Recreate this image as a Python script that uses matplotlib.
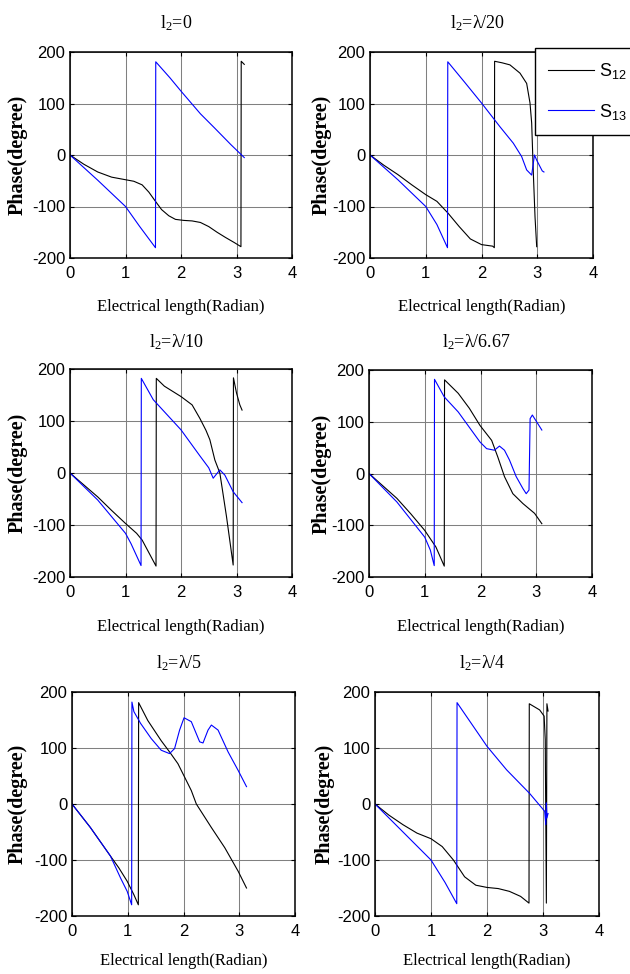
import matplotlib
matplotlib.use('Agg')
import matplotlib.pyplot as plt
from matplotlib.lines import Line2D

plt.rcParams['font.family'] = 'Liberation Sans'
plt.rcParams['mathtext.default'] = 'regular'
plt.rcParams['axes.unicode_minus'] = False

# ---------------- data ----------------
titles = ['$l_2$=0', '$l_2$=λ/20', '$l_2$=λ/10', '$l_2$=λ/6.67', '$l_2$=λ/5', '$l_2$=λ/4']
series_labels = ['S$_{12}$', 'S$_{13}$']
x_ticks = [0, 1, 2, 3, 4]
y_ticks = [-200, -100, 0, 100, 200]
xlabel_text = 'Electrical length(Radian)'
ylabel_text = 'Phase(degree)'

# l2 = 0
s12_x_0 = [0, 0.25, 0.5, 0.75, 1.0, 1.15, 1.3, 1.42, 1.54, 1.65, 1.78, 1.9, 2.05, 2.2, 2.35, 2.5, 2.65, 2.8, 2.96, 3.08, 3.085, 3.14]
s12_y_0 = [0, -18, -33, -43, -48, -51, -58, -72, -90, -106, -118, -125, -127, -128, -131, -139, -150, -160, -170, -178, 182, 176]
s13_x_0 = [0, 0.5, 1.0, 1.25, 1.54, 1.545, 1.8, 2.0, 2.35, 2.6, 2.9, 3.14]
s13_y_0 = [0, -49, -100, -138, -180, 181, 150, 124, 80, 53, 20, -5]

# l2 = lambda/20
s12_x_20 = [0, 0.25, 0.5, 0.75, 1.0, 1.2, 1.4, 1.6, 1.8, 2.0, 2.2, 2.23, 2.235, 2.37, 2.51, 2.69, 2.81, 2.87, 2.90, 2.93, 2.96, 2.99]
s12_y_20 = [0, -20, -38, -58, -77, -90, -113, -139, -163, -174, -177, -180, 182, 179, 175, 159, 139, 101, 62, -36, -120, -178]
s13_x_20 = [0, 0.5, 1.0, 1.2, 1.39, 1.395, 1.7, 2.0, 2.33, 2.57, 2.72, 2.81, 2.90, 2.95, 2.99, 3.09, 3.12]
s13_y_20 = [0, -48, -100, -135, -180, 181, 141, 101, 55, 23, -3, -29, -39, 0, -10, -31, -33]

# l2 = lambda/10
s12_x_10 = [0, 0.25, 0.5, 0.75, 1.0, 1.2, 1.3, 1.4, 1.55, 1.555, 1.7, 1.85, 2.0, 2.2, 2.34, 2.45, 2.52, 2.61, 2.70, 2.82, 2.94, 2.945, 3.0, 3.06, 3.1]
s12_y_10 = [0, -23, -46, -72, -97, -116, -129, -149, -179, 182, 167, 157, 147, 131, 105, 82, 64, 25, 0, -84, -177, 183, 154, 131, 121]
s13_x_10 = [0, 0.5, 1.0, 1.1, 1.28, 1.285, 1.5, 2.0, 2.34, 2.5, 2.58, 2.70, 2.79, 2.94, 3.1]
s13_y_10 = [0, -52, -116, -136, -178, 182, 141, 83, 33, 10, -10, 6, -4, -36, -57]

# l2 = lambda/6.67
s12_x_667 = [0, 0.25, 0.5, 0.75, 1.0, 1.2, 1.35, 1.355, 1.6, 1.8, 1.99, 2.20, 2.31, 2.43, 2.58, 2.76, 2.97, 3.10]
s12_y_667 = [0, -24, -48, -78, -110, -142, -179, 181, 155, 126, 93, 64, 32, -6, -39, -58, -77, -97]
s13_x_667 = [0, 0.5, 1.0, 1.1, 1.17, 1.175, 1.35, 1.6, 1.99, 2.11, 2.25, 2.34, 2.43, 2.52, 2.64, 2.76, 2.82, 2.87, 2.89, 2.93, 3.10]
s13_y_667 = [0, -55, -123, -148, -178, 182, 148, 119, 61, 48, 45, 53, 45, 26, -6, -29, -39, -32, 106, 113, 84]

# l2 = lambda/5
s12_x_5 = [0, 0.33, 0.69, 0.84, 0.99, 1.11, 1.19, 1.195, 1.36, 1.60, 1.75, 1.90, 2.02, 2.14, 2.23, 2.5, 2.74, 2.98, 3.13]
s12_y_5 = [0, -42, -93, -114, -138, -162, -180, 181, 149, 113, 93, 72, 48, 24, 0, -42, -78, -120, -150]
s13_x_5 = [0, 0.33, 0.69, 0.87, 0.99, 1.07, 1.075, 1.11, 1.23, 1.42, 1.60, 1.75, 1.84, 1.93, 2.01, 2.14, 2.29, 2.35, 2.44, 2.5, 2.62, 2.8, 2.98, 3.13]
s13_y_5 = [0, -42, -93, -132, -156, -180, 182, 165, 144, 117, 96, 90, 99, 132, 154, 147, 111, 109, 132, 141, 132, 93, 60, 31]

# l2 = lambda/4
s12_x_4 = [0, 0.25, 0.5, 0.75, 1.0, 1.2, 1.4, 1.6, 1.8, 2.0, 2.2, 2.4, 2.6, 2.75, 2.755, 2.94, 3.02, 3.04, 3.06, 3.07, 3.09]
s12_y_4 = [0, -20, -37, -52, -62, -76, -100, -130, -145, -149, -151, -156, -165, -177, 179, 168, 157, 115, -177, 179, 166]
s13_x_4 = [0, 0.5, 1.0, 1.25, 1.46, 1.465, 2.0, 2.35, 2.76, 3.03, 3.05, 3.06, 3.07, 3.09]
s13_y_4 = [0, -50, -100, -140, -178, 181, 103, 61, 19, -13, -37, 2, -25, -17]

panels = [
    (s12_x_0, s12_y_0, s13_x_0, s13_y_0),
    (s12_x_20, s12_y_20, s13_x_20, s13_y_20),
    (s12_x_10, s12_y_10, s13_x_10, s13_y_10),
    (s12_x_667, s12_y_667, s13_x_667, s13_y_667),
    (s12_x_5, s12_y_5, s13_x_5, s13_y_5),
    (s12_x_4, s12_y_4, s13_x_4, s13_y_4),
]

# ---------------- layout (pixels) ----------------
W, H = 630, 974
fig = plt.figure(figsize=(W / 100, H / 100), dpi=100)

boxes = [(70, 52, 292, 258), (370, 52, 593, 258),
         (70, 369, 292, 577), (369, 370, 592, 577),
         (72, 692, 295, 916), (375, 692, 599, 916)]
title_base = [28.5, 28.5, 347.5, 347.5, 668.5, 668.5]
xlabel_cy = [307, 307, 627, 627, 961, 961]
ylabel_cx = [17.5, 322, 18, 322, 18, 325]

S12_COLOR = 'k'
S13_COLOR = '#0000ff'
serif = 'Liberation Serif'

axes = []
for i, (l, t, r, b) in enumerate(boxes):
    ax = fig.add_axes([l / W, 1 - b / H, (r - l) / W, (b - t) / H])
    axes.append(ax)
    x12, y12, x13, y13 = panels[i]
    ax.plot(x12, y12, color=S12_COLOR, lw=0.8)
    ax.plot(x13, y13, color=S13_COLOR, lw=0.8)
    ax.set_xlim(0, 4)
    ax.set_ylim(-200, 200)
    ax.set_xticks(x_ticks)
    ax.set_yticks(y_ticks)
    ax.grid(True, color='#808080', lw=0.75)
    ax.set_axisbelow(True)
    ax.tick_params(direction='in', top=True, right=True, length=3, width=0.8,
                   labelsize=12, colors='k')
    ax.tick_params(axis='x', pad=6)
    ax.tick_params(axis='y', pad=3.5)
    for sp in ax.spines.values():
        sp.set_linewidth(1.1)
        sp.set_color('k')
    ax.set_title(titles[i], family=serif, fontsize=13,
                 pad=(t - title_base[i]) * 0.72, x=0.48)
    ax.set_xlabel(xlabel_text, family=serif, fontsize=12)
    ax.xaxis.label.set_va('center')
    ax.xaxis.set_label_coords(0.5, -(xlabel_cy[i] - b) / (b - t))
    ax.set_ylabel(ylabel_text, family=serif, fontsize=14.5, fontweight='bold')
    ax.yaxis.label.set_va('center')
    ax.yaxis.set_label_coords(-(l - ylabel_cx[i]) / (r - l), 0.5)

handles = [Line2D([], [], color=S12_COLOR, lw=0.8), Line2D([], [], color=S13_COLOR, lw=0.8)]
leg = axes[1].legend(handles, series_labels, loc='upper left',
                     bbox_to_anchor=(535 / W, 1 - 48 / H), bbox_transform=fig.transFigure,
                     borderaxespad=0, frameon=True, fancybox=False, edgecolor='k',
                     framealpha=1, handlelength=2.55, handletextpad=0.3,
                     labelspacing=1.14, borderpad=0.72,
                     prop={'family': 'Liberation Sans', 'size': 13})
leg.get_frame().set_linewidth(1.0)

fig.savefig('out.png', dpi=100)
